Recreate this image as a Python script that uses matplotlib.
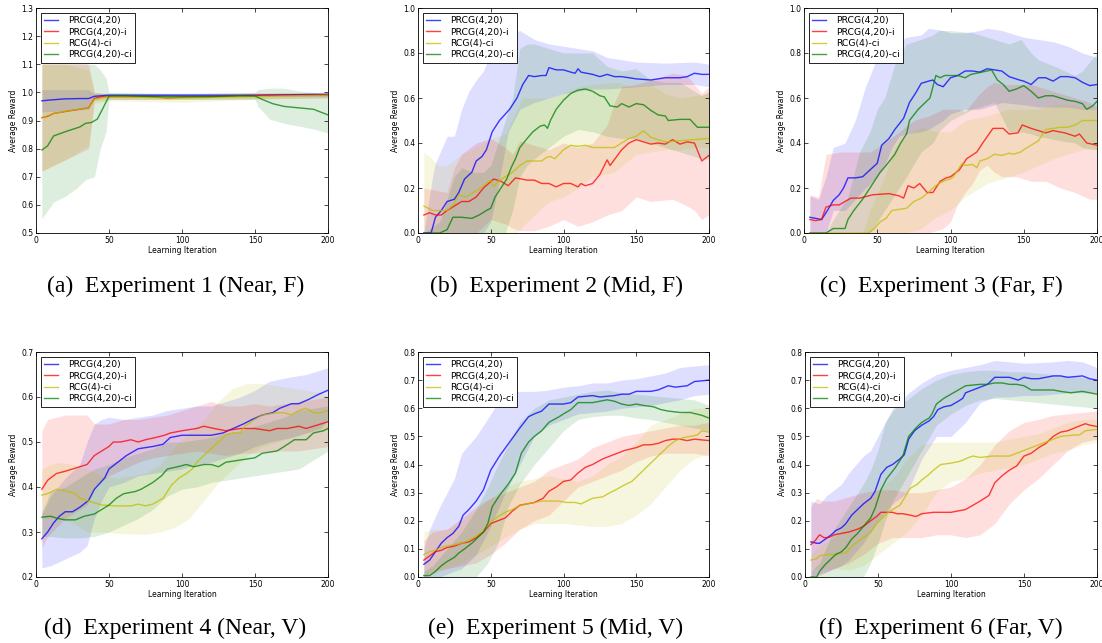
import matplotlib
matplotlib.use("Agg")
import matplotlib.pyplot as plt

FIG_W, FIG_H, DPI = 11.02, 6.43, 100

LABELS = ["PRCG(4,20)", "PRCG(4,20)-i", "RCG(4)-ci", "PRCG(4,20)-ci"]
COLORS = ["b", "r", "y", "g"]
CAPTIONS = ["(a)  Experiment 1 (Near, F)", "(b)  Experiment 2 (Mid, F)", "(c)  Experiment 3 (Far, F)",
            "(d)  Experiment 4 (Near, V)", "(e)  Experiment 5 (Mid, V)", "(f)  Experiment 6 (Far, V)"]
X_TICKS = [0, 50, 100, 150, 200]
Y_TICKS = [
    [0.5, 0.6, 0.7, 0.8, 0.9, 1.0, 1.1, 1.2, 1.3],
    [0.0, 0.2, 0.4, 0.6, 0.8, 1.0],
    [0.0, 0.2, 0.4, 0.6, 0.8, 1.0],
    [0.2, 0.3, 0.4, 0.5, 0.6, 0.7],
    [0.0, 0.1, 0.2, 0.3, 0.4, 0.5, 0.6, 0.7, 0.8],
    [0.0, 0.1, 0.2, 0.3, 0.4, 0.5, 0.6, 0.7, 0.8],
]

# ---- Experiment 1 (Near, F): mean (iter, reward), band (iter, low, high)
E1_BLUE = [(4, 0.97), (10, 0.973), (20, 0.977), (30, 0.978), (36, 0.978), (40, 0.986), (50, 0.99),
           (100, 0.99), (150, 0.99), (200, 0.993)]
E1_BLUE_BAND = [(4, 0.93, 1.01), (36, 0.94, 1.01), (40, 0.98, 0.995), (50, 0.985, 0.997),
                (100, 0.985, 0.997), (150, 0.985, 0.998), (200, 0.985, 1.0)]
E1_RED = [(4, 0.91), (8, 0.915), (12, 0.925), (20, 0.932), (30, 0.94), (36, 0.945), (40, 0.978),
          (45, 0.985), (60, 0.985), (80, 0.985), (90, 0.98), (100, 0.983), (120, 0.985), (140, 0.988),
          (160, 0.99), (200, 0.99)]
E1_RED_BAND = [(4, 0.72, 1.12), (12, 0.74, 1.12), (20, 0.76, 1.12), (36, 0.80, 1.1), (40, 0.97, 1.0),
               (50, 0.975, 0.995), (100, 0.975, 0.99), (200, 0.98, 1.0)]
E1_YELLOW = [(4, 0.91), (12, 0.925), (20, 0.933), (30, 0.94), (36, 0.945), (40, 0.975), (50, 0.985),
             (100, 0.98), (150, 0.985), (200, 0.99)]
E1_YELLOW_BAND = [(4, 0.72, 1.1), (20, 0.76, 1.1), (36, 0.81, 1.08), (40, 0.96, 1.0), (50, 0.97, 0.995),
                  (100, 0.965, 0.99), (150, 0.975, 0.995), (200, 0.98, 0.995)]
E1_GREEN = [(4, 0.795), (8, 0.81), (12, 0.845), (20, 0.86), (30, 0.877), (34, 0.89), (38, 0.893),
            (42, 0.905), (46, 0.945), (50, 0.987), (60, 0.988), (80, 0.985), (100, 0.985), (120, 0.985),
            (140, 0.988), (150, 0.987), (155, 0.975), (162, 0.96), (170, 0.95), (180, 0.945), (190, 0.94),
            (200, 0.92)]
E1_GREEN_BAND = [(4, 0.55, 1.1), (12, 0.61, 1.1), (20, 0.63, 1.1), (28, 0.66, 1.1), (34, 0.69, 1.1),
                 (40, 0.70, 1.1), (44, 0.80, 1.08), (48, 0.86, 1.05), (50, 0.975, 1.0), (100, 0.975, 0.995),
                 (150, 0.975, 1.0), (152, 0.95, 1.01), (160, 0.905, 1.015), (170, 0.89, 1.015),
                 (180, 0.88, 1.005), (190, 0.87, 1.0), (200, 0.855, 0.995)]

# ---- Experiment 2 (Mid, F)
E2_BLUE = [(4, 0), (9, 0), (12, 0.07), (16, 0.10), (20, 0.14), (25, 0.15), (28, 0.18), (32, 0.24),
           (37, 0.27), (40, 0.32), (44, 0.34), (47, 0.37), (51, 0.45), (56, 0.50), (63, 0.55), (68, 0.60),
           (72, 0.66), (76, 0.70), (80, 0.695), (85, 0.70), (88, 0.70), (90, 0.735), (95, 0.725),
           (100, 0.725), (105, 0.715), (108, 0.71), (110, 0.73), (112, 0.715), (120, 0.705), (125, 0.695),
           (130, 0.705), (135, 0.695), (140, 0.695), (150, 0.685), (160, 0.68), (165, 0.685), (170, 0.69),
           (180, 0.69), (185, 0.695), (190, 0.71), (195, 0.705), (200, 0.705)]
E2_BLUE_BAND = [(4, 0, 0), (10, 0, 0.25), (12, 0, 0.31), (20, 0, 0.43), (25, 0, 0.43), (30, 0, 0.55),
                (35, 0, 0.63), (40, 0, 0.68), (45, 0, 0.72), (50, 0.05, 0.80), (55, 0.2, 0.86),
                (62, 0.45, 0.88), (70, 0.55, 0.90), (80, 0.58, 0.86), (90, 0.60, 0.84), (100, 0.62, 0.83),
                (110, 0.63, 0.82), (120, 0.64, 0.81), (130, 0.64, 0.78), (150, 0.65, 0.76),
                (170, 0.66, 0.755), (190, 0.66, 0.76), (200, 0.65, 0.75)]
E2_RED = [(4, 0.08), (8, 0.09), (12, 0.08), (16, 0.08), (20, 0.10), (25, 0.12), (30, 0.14), (35, 0.14),
          (40, 0.16), (45, 0.20), (52, 0.24), (57, 0.23), (62, 0.21), (67, 0.245), (75, 0.235), (80, 0.235),
          (85, 0.22), (90, 0.22), (95, 0.205), (100, 0.22), (105, 0.22), (110, 0.205), (112, 0.22),
          (115, 0.21), (120, 0.22), (125, 0.26), (130, 0.325), (132, 0.30), (140, 0.37), (145, 0.40),
          (150, 0.415), (155, 0.405), (160, 0.395), (165, 0.40), (170, 0.395), (175, 0.415), (180, 0.395),
          (185, 0.405), (190, 0.40), (195, 0.32), (200, 0.345)]
E2_RED_BAND = [(4, 0, 0.20), (12, 0, 0.19), (20, 0, 0.18), (25, 0, 0.29), (30, 0, 0.35), (40, 0.0, 0.40),
               (50, 0.06, 0.42), (60, 0.04, 0.38), (65, 0.02, 0.35), (70, 0.01, 0.41), (80, 0.01, 0.39),
               (90, 0.03, 0.37), (100, 0.06, 0.40), (110, 0.03, 0.38), (120, 0.05, 0.40), (130, 0.08, 0.48),
               (135, 0.09, 0.58), (140, 0.10, 0.65), (150, 0.16, 0.66), (160, 0.14, 0.68), (175, 0.15, 0.71),
               (185, 0.12, 0.70), (190, 0.10, 0.66), (195, 0.06, 0.62), (200, 0.08, 0.65)]
E2_YELLOW = [(4, 0.12), (10, 0.10), (15, 0.10), (20, 0.10), (25, 0.13), (28, 0.17), (33, 0.16), (38, 0.18),
             (43, 0.20), (50, 0.235), (52, 0.205), (55, 0.23), (60, 0.25), (65, 0.27), (70, 0.30), (75, 0.32),
             (85, 0.32), (88, 0.335), (91, 0.34), (94, 0.33), (100, 0.37), (105, 0.39), (110, 0.385),
             (115, 0.39), (120, 0.38), (135, 0.38), (145, 0.42), (150, 0.43), (155, 0.455), (160, 0.425),
             (170, 0.405), (180, 0.41), (190, 0.415), (200, 0.42)]
E2_YELLOW_BAND = [(4, 0, 0.36), (8, 0, 0.34), (14, 0, 0.30), (20, 0, 0.30), (30, 0, 0.35), (40, 0, 0.38),
                  (50, 0, 0.42), (60, 0, 0.44), (68, 0, 0.55), (72, 0.03, 0.60), (80, 0.08, 0.60),
                  (90, 0.14, 0.60), (100, 0.16, 0.62), (110, 0.2, 0.65), (120, 0.25, 0.66), (135, 0.27, 0.67),
                  (150, 0.35, 0.65), (160, 0.36, 0.66), (170, 0.37, 0.62), (180, 0.37, 0.60),
                  (190, 0.38, 0.61), (200, 0.38, 0.62)]
E2_GREEN = [(4, 0), (15, 0), (20, 0.015), (24, 0.07), (30, 0.07), (37, 0.065), (42, 0.08), (47, 0.10),
            (50, 0.11), (53, 0.16), (57, 0.20), (61, 0.24), (64, 0.29), (67, 0.33), (70, 0.38), (75, 0.42),
            (79, 0.45), (84, 0.475), (87, 0.48), (89, 0.465), (91, 0.50), (95, 0.55), (100, 0.59),
            (105, 0.62), (110, 0.635), (115, 0.64), (120, 0.63), (125, 0.61), (128, 0.605), (132, 0.565),
            (137, 0.56), (140, 0.575), (145, 0.56), (150, 0.575), (155, 0.57), (160, 0.545), (165, 0.525),
            (170, 0.52), (172, 0.50), (180, 0.505), (187, 0.505), (192, 0.47), (200, 0.47)]
E2_GREEN_BAND = [(4, 0, 0), (15, 0, 0.05), (20, 0, 0.15), (25, 0, 0.25), (30, 0, 0.29), (38, 0, 0.27),
                 (45, 0, 0.27), (50, 0, 0.30), (55, 0, 0.40), (60, 0, 0.50), (65, 0.1, 0.60), (70, 0.25, 0.82),
                 (75, 0.3, 0.84), (80, 0.33, 0.84), (90, 0.38, 0.82), (100, 0.43, 0.80), (110, 0.46, 0.80),
                 (120, 0.45, 0.80), (130, 0.43, 0.74), (140, 0.42, 0.72), (150, 0.42, 0.73), (160, 0.40, 0.68),
                 (170, 0.38, 0.67), (180, 0.36, 0.67), (190, 0.34, 0.63), (195, 0.33, 0.61), (200, 0.33, 0.63)]

# ---- Experiment 3 (Far, F)
E3_BLUE = [(4, 0.07), (8, 0.065), (12, 0.06), (16, 0.10), (20, 0.145), (24, 0.17), (27, 0.20), (30, 0.245),
           (35, 0.245), (40, 0.25), (45, 0.28), (50, 0.31), (53, 0.39), (58, 0.42), (62, 0.46), (68, 0.51),
           (72, 0.58), (76, 0.62), (80, 0.665), (85, 0.675), (88, 0.68), (91, 0.66), (95, 0.65), (100, 0.69),
           (105, 0.70), (110, 0.72), (115, 0.72), (120, 0.715), (125, 0.73), (130, 0.725), (135, 0.72),
           (140, 0.695), (147, 0.68), (150, 0.675), (155, 0.66), (160, 0.69), (165, 0.69), (170, 0.675),
           (175, 0.695), (180, 0.695), (185, 0.69), (190, 0.67), (195, 0.655), (200, 0.66)]
E3_BLUE_BAND = [(4, 0, 0.165), (10, 0, 0.15), (15, 0, 0.25), (20, 0.1, 0.38), (28, 0.1, 0.40),
                (35, 0.15, 0.50), (42, 0.2, 0.65), (50, 0.25, 0.78), (55, 0.3, 0.78), (60, 0.38, 0.80),
                (65, 0.43, 0.85), (70, 0.44, 0.87), (80, 0.45, 0.88), (85, 0.46, 0.91), (95, 0.50, 0.90),
                (100, 0.53, 0.89), (110, 0.55, 0.89), (120, 0.55, 0.90), (125, 0.56, 0.91), (135, 0.58, 0.90),
                (150, 0.57, 0.87), (160, 0.56, 0.86), (170, 0.56, 0.85), (180, 0.56, 0.83), (190, 0.55, 0.80),
                (200, 0.55, 0.78)]
E3_RED = [(4, 0.06), (8, 0.055), (12, 0.06), (15, 0.115), (20, 0.125), (24, 0.125), (28, 0.14), (32, 0.155),
          (38, 0.155), (47, 0.17), (58, 0.175), (65, 0.165), (68, 0.155), (71, 0.21), (75, 0.20), (79, 0.22),
          (84, 0.18), (88, 0.18), (93, 0.23), (97, 0.245), (100, 0.25), (106, 0.28), (111, 0.33), (118, 0.36),
          (122, 0.40), (129, 0.465), (136, 0.465), (140, 0.44), (146, 0.445), (149, 0.48), (155, 0.465),
          (160, 0.455), (165, 0.445), (170, 0.455), (178, 0.445), (185, 0.43), (188, 0.44), (193, 0.40),
          (200, 0.39)]
E3_RED_BAND = [(4, 0, 0.17), (10, 0, 0.16), (15, 0, 0.35), (25, 0, 0.36), (35, 0, 0.36), (45, 0, 0.36),
               (55, 0, 0.40), (65, 0, 0.45), (75, 0, 0.50), (85, 0.0, 0.52), (95, 0.02, 0.55), (100, 0.05, 0.55),
               (105, 0.13, 0.55), (110, 0.18, 0.54), (115, 0.22, 0.58), (120, 0.28, 0.62), (125, 0.30, 0.65),
               (130, 0.27, 0.67), (135, 0.25, 0.66), (145, 0.25, 0.66), (155, 0.23, 0.66), (165, 0.23, 0.64),
               (175, 0.20, 0.62), (185, 0.18, 0.60), (195, 0.15, 0.58), (200, 0.15, 0.56)]
E3_YELLOW = [(4, 0), (44, 0), (48, 0.02), (52, 0.05), (56, 0.065), (60, 0.10), (65, 0.105), (70, 0.11),
             (75, 0.14), (80, 0.155), (85, 0.18), (88, 0.20), (92, 0.22), (97, 0.235), (100, 0.24), (102, 0.25),
             (105, 0.28), (108, 0.31), (110, 0.30), (115, 0.305), (118, 0.29), (120, 0.32), (125, 0.33),
             (130, 0.35), (135, 0.345), (140, 0.355), (143, 0.35), (148, 0.36), (150, 0.37), (155, 0.39),
             (160, 0.41), (165, 0.46), (170, 0.465), (175, 0.47), (180, 0.47), (185, 0.48), (190, 0.50),
             (200, 0.50)]
E3_YELLOW_BAND = [(4, 0, 0), (40, 0, 0), (45, 0, 0.1), (55, 0, 0.25), (62, 0, 0.38), (70, 0, 0.43),
                  (80, 0.02, 0.47), (90, 0.07, 0.45), (100, 0.10, 0.45), (110, 0.16, 0.50), (125, 0.22, 0.52),
                  (140, 0.25, 0.55), (150, 0.27, 0.55), (160, 0.30, 0.55), (170, 0.33, 0.57), (180, 0.35, 0.57),
                  (190, 0.37, 0.56), (200, 0.37, 0.55)]
E3_GREEN = [(4, 0), (15, 0), (20, 0.02), (28, 0.02), (30, 0.06), (34, 0.10), (40, 0.15), (46, 0.21),
            (52, 0.27), (56, 0.30), (62, 0.35), (66, 0.40), (70, 0.44), (72, 0.50), (78, 0.55), (86, 0.60),
            (90, 0.70), (93, 0.69), (96, 0.70), (100, 0.70), (105, 0.70), (110, 0.69), (114, 0.705),
            (125, 0.72), (128, 0.725), (132, 0.68), (136, 0.66), (140, 0.63), (145, 0.64), (150, 0.655),
            (155, 0.63), (160, 0.60), (165, 0.61), (170, 0.61), (175, 0.60), (180, 0.59), (185, 0.585),
            (190, 0.575), (193, 0.55), (197, 0.565), (200, 0.585)]
E3_GREEN_BAND = [(4, 0, 0), (15, 0, 0), (20, 0, 0.06), (30, 0, 0.16), (38, 0, 0.36), (45, 0, 0.45),
                 (50, 0.05, 0.55), (55, 0.10, 0.60), (62, 0.17, 0.75), (70, 0.25, 0.84), (80, 0.36, 0.86),
                 (88, 0.40, 0.88), (92, 0.45, 0.90), (100, 0.50, 0.90), (115, 0.55, 0.89), (130, 0.58, 0.86),
                 (140, 0.45, 0.84), (148, 0.45, 0.86), (155, 0.44, 0.80), (160, 0.43, 0.77), (175, 0.41, 0.73),
                 (185, 0.40, 0.70), (190, 0.38, 0.72), (200, 0.37, 0.80)]

# ---- Experiment 4 (Near, V)
E4_BLUE = [(4, 0.285), (8, 0.30), (12, 0.32), (16, 0.335), (20, 0.345), (25, 0.345), (30, 0.355), (36, 0.37),
           (40, 0.395), (47, 0.42), (50, 0.44), (56, 0.455), (62, 0.47), (70, 0.485), (80, 0.49), (87, 0.495),
           (92, 0.51), (100, 0.515), (110, 0.515), (120, 0.515), (128, 0.52), (135, 0.53), (142, 0.54),
           (148, 0.55), (155, 0.56), (162, 0.565), (167, 0.575), (175, 0.585), (180, 0.585), (187, 0.595),
           (193, 0.605), (200, 0.615)]
E4_BLUE_BAND = [(4, 0.22, 0.34), (10, 0.225, 0.38), (20, 0.24, 0.42), (30, 0.255, 0.45), (35, 0.27, 0.50),
                (40, 0.33, 0.54), (45, 0.37, 0.55), (50, 0.40, 0.555), (60, 0.41, 0.55), (70, 0.425, 0.555),
                (80, 0.43, 0.56), (90, 0.435, 0.57), (100, 0.44, 0.575), (110, 0.45, 0.58), (120, 0.455, 0.58),
                (130, 0.465, 0.59), (140, 0.475, 0.60), (150, 0.49, 0.615), (160, 0.50, 0.635),
                (175, 0.51, 0.645), (185, 0.52, 0.65), (195, 0.53, 0.66), (200, 0.55, 0.665)]
E4_RED = [(4, 0.395), (8, 0.415), (14, 0.43), (20, 0.435), (25, 0.44), (30, 0.445), (35, 0.45), (40, 0.47),
          (45, 0.48), (50, 0.49), (53, 0.50), (58, 0.50), (65, 0.505), (70, 0.50), (75, 0.505), (82, 0.51),
          (88, 0.515), (92, 0.52), (100, 0.525), (110, 0.53), (115, 0.535), (122, 0.53), (130, 0.525),
          (140, 0.53), (150, 0.53), (160, 0.525), (165, 0.53), (172, 0.53), (180, 0.535), (185, 0.53),
          (190, 0.535), (195, 0.54), (200, 0.545)]
E4_RED_BAND = [(4, 0.265, 0.525), (8, 0.29, 0.55), (20, 0.33, 0.56), (35, 0.36, 0.56), (40, 0.40, 0.54),
               (50, 0.425, 0.54), (60, 0.44, 0.55), (70, 0.455, 0.55), (80, 0.465, 0.555), (90, 0.47, 0.56),
               (100, 0.475, 0.57), (110, 0.48, 0.58), (120, 0.475, 0.59), (130, 0.47, 0.58), (140, 0.475, 0.58),
               (150, 0.475, 0.585), (160, 0.48, 0.58), (170, 0.48, 0.585), (180, 0.48, 0.59),
               (190, 0.485, 0.595), (200, 0.49, 0.60)]
E4_YELLOW = [(4, 0.382), (8, 0.385), (14, 0.395), (22, 0.39), (27, 0.385), (30, 0.375), (35, 0.37),
             (40, 0.365), (45, 0.36), (55, 0.358), (65, 0.358), (70, 0.362), (75, 0.358), (80, 0.362),
             (87, 0.375), (90, 0.39), (93, 0.405), (98, 0.42), (103, 0.43), (107, 0.44), (110, 0.455),
             (115, 0.47), (120, 0.485), (125, 0.50), (130, 0.515), (135, 0.52), (140, 0.52), (143, 0.535),
             (150, 0.55), (155, 0.56), (165, 0.565), (170, 0.565), (175, 0.56), (180, 0.57), (185, 0.575),
             (190, 0.565), (195, 0.565), (200, 0.57)]
E4_YELLOW_BAND = [(4, 0.33, 0.44), (10, 0.33, 0.45), (15, 0.33, 0.455), (25, 0.32, 0.45), (35, 0.30, 0.44),
                  (45, 0.30, 0.425), (55, 0.297, 0.42), (65, 0.296, 0.425), (75, 0.295, 0.43), (85, 0.30, 0.45),
                  (95, 0.31, 0.49), (105, 0.33, 0.52), (115, 0.37, 0.55), (125, 0.41, 0.59), (135, 0.44, 0.62),
                  (145, 0.47, 0.63), (155, 0.49, 0.63), (165, 0.50, 0.625), (175, 0.51, 0.62),
                  (185, 0.52, 0.615), (195, 0.525, 0.61), (200, 0.53, 0.60)]
E4_GREEN = [(4, 0.333), (10, 0.335), (15, 0.33), (20, 0.327), (27, 0.327), (33, 0.335), (40, 0.34), (45, 0.35),
            (50, 0.36), (55, 0.375), (60, 0.385), (68, 0.39), (72, 0.395), (80, 0.41), (86, 0.425), (90, 0.44),
            (97, 0.445), (103, 0.45), (108, 0.445), (115, 0.45), (120, 0.45), (125, 0.445), (130, 0.455),
            (140, 0.46), (150, 0.465), (155, 0.475), (165, 0.48), (170, 0.49), (177, 0.505), (185, 0.505),
            (190, 0.52), (197, 0.525), (200, 0.53)]
E4_GREEN_BAND = [(4, 0.29, 0.345), (10, 0.29, 0.39), (20, 0.287, 0.40), (30, 0.287, 0.42), (40, 0.29, 0.44),
                 (50, 0.30, 0.45), (60, 0.315, 0.465), (70, 0.33, 0.475), (80, 0.35, 0.485), (90, 0.38, 0.50),
                 (100, 0.395, 0.50), (110, 0.40, 0.505), (120, 0.41, 0.51), (130, 0.415, 0.52),
                 (140, 0.42, 0.525), (150, 0.425, 0.535), (160, 0.43, 0.545), (170, 0.435, 0.555),
                 (180, 0.44, 0.57), (190, 0.46, 0.575), (200, 0.48, 0.58)]

# ---- Experiment 5 (Mid, V)
E5_BLUE = [(4, 0.045), (8, 0.06), (12, 0.09), (16, 0.12), (20, 0.14), (24, 0.155), (28, 0.18), (31, 0.22),
           (35, 0.24), (40, 0.27), (45, 0.31), (50, 0.38), (56, 0.43), (63, 0.48), (70, 0.53), (76, 0.57),
           (80, 0.58), (85, 0.59), (90, 0.615), (100, 0.615), (105, 0.62), (110, 0.64), (120, 0.645),
           (125, 0.64), (135, 0.645), (140, 0.65), (145, 0.65), (150, 0.66), (160, 0.66), (165, 0.665),
           (172, 0.68), (177, 0.675), (185, 0.68), (190, 0.695), (200, 0.70)]
E5_BLUE_BAND = [(4, 0, 0.10), (8, 0, 0.17), (15, 0, 0.25), (20, 0.01, 0.30), (25, 0.02, 0.35), (30, 0.03, 0.44),
                (40, 0.08, 0.50), (50, 0.18, 0.58), (60, 0.30, 0.66), (70, 0.40, 0.66), (80, 0.50, 0.66),
                (90, 0.54, 0.665), (100, 0.56, 0.675), (110, 0.58, 0.68), (120, 0.585, 0.69), (130, 0.59, 0.69),
                (140, 0.60, 0.70), (150, 0.605, 0.705), (160, 0.61, 0.715), (170, 0.62, 0.725),
                (180, 0.63, 0.745), (190, 0.645, 0.75), (200, 0.65, 0.755)]
E5_RED = [(4, 0.06), (8, 0.075), (12, 0.09), (16, 0.095), (20, 0.105), (25, 0.11), (30, 0.12), (35, 0.125),
          (40, 0.14), (45, 0.16), (50, 0.19), (55, 0.20), (60, 0.21), (65, 0.235), (70, 0.255), (75, 0.26),
          (80, 0.265), (86, 0.28), (90, 0.305), (95, 0.32), (100, 0.34), (105, 0.345), (110, 0.37), (115, 0.39),
          (120, 0.40), (127, 0.42), (132, 0.43), (137, 0.44), (142, 0.45), (150, 0.46), (155, 0.47),
          (160, 0.47), (165, 0.475), (170, 0.485), (175, 0.49), (180, 0.49), (185, 0.485), (190, 0.49),
          (200, 0.485)]
E5_RED_BAND = [(4, 0.0, 0.13), (10, 0.02, 0.16), (20, 0.03, 0.17), (30, 0.04, 0.21), (40, 0.05, 0.25),
               (50, 0.08, 0.28), (60, 0.12, 0.30), (70, 0.17, 0.32), (80, 0.20, 0.34), (90, 0.22, 0.38),
               (100, 0.27, 0.40), (110, 0.32, 0.42), (120, 0.34, 0.46), (130, 0.36, 0.48), (140, 0.38, 0.50),
               (150, 0.41, 0.51), (160, 0.43, 0.52), (170, 0.44, 0.53), (180, 0.44, 0.54), (190, 0.44, 0.54),
               (200, 0.43, 0.55)]
E5_YELLOW = [(4, 0.08), (8, 0.09), (12, 0.095), (16, 0.105), (20, 0.11), (25, 0.115), (30, 0.12), (35, 0.13),
             (40, 0.145), (45, 0.165), (50, 0.195), (55, 0.215), (60, 0.23), (65, 0.24), (70, 0.255), (75, 0.26),
             (80, 0.265), (85, 0.27), (90, 0.27), (97, 0.27), (102, 0.265), (108, 0.265), (112, 0.26),
             (116, 0.27), (120, 0.28), (127, 0.285), (132, 0.30), (136, 0.31), (141, 0.325), (147, 0.34),
             (152, 0.365), (157, 0.39), (162, 0.415), (167, 0.44), (172, 0.465), (177, 0.485), (182, 0.495),
             (187, 0.50), (192, 0.505), (195, 0.52), (200, 0.515)]
E5_YELLOW_BAND = [(4, 0.0, 0.16), (10, 0.01, 0.17), (20, 0.03, 0.17), (30, 0.05, 0.20), (40, 0.08, 0.24),
                  (50, 0.11, 0.28), (60, 0.14, 0.32), (70, 0.17, 0.34), (80, 0.19, 0.35), (90, 0.19, 0.36),
                  (100, 0.19, 0.35), (110, 0.185, 0.34), (120, 0.18, 0.36), (130, 0.18, 0.40), (140, 0.19, 0.43),
                  (150, 0.22, 0.48), (160, 0.26, 0.54), (170, 0.32, 0.56), (180, 0.38, 0.58), (190, 0.42, 0.60),
                  (200, 0.44, 0.60)]
E5_GREEN = [(4, 0.005), (8, 0.005), (12, 0.02), (16, 0.04), (20, 0.055), (25, 0.07), (28, 0.085), (32, 0.10),
            (37, 0.12), (41, 0.14), (45, 0.16), (48, 0.19), (51, 0.25), (56, 0.29), (62, 0.33), (67, 0.37),
            (71, 0.44), (76, 0.48), (80, 0.50), (85, 0.52), (90, 0.55), (97, 0.57), (100, 0.58), (105, 0.595),
            (110, 0.62), (115, 0.62), (120, 0.62), (125, 0.625), (130, 0.63), (135, 0.625), (140, 0.615),
            (145, 0.61), (150, 0.615), (155, 0.61), (162, 0.605), (167, 0.595), (172, 0.59), (180, 0.585),
            (187, 0.585), (195, 0.575), (200, 0.565)]
E5_GREEN_BAND = [(4, 0, 0.02), (10, 0, 0.04), (20, 0, 0.10), (30, 0, 0.16), (40, 0, 0.24), (48, 0.05, 0.32),
                 (55, 0.12, 0.40), (62, 0.25, 0.47), (70, 0.33, 0.55), (80, 0.40, 0.60), (90, 0.46, 0.63),
                 (100, 0.52, 0.64), (110, 0.56, 0.65), (120, 0.57, 0.66), (130, 0.575, 0.665),
                 (140, 0.575, 0.655), (150, 0.565, 0.65), (160, 0.56, 0.645), (170, 0.55, 0.64),
                 (180, 0.54, 0.635), (190, 0.53, 0.63), (200, 0.52, 0.61)]

# ---- Experiment 6 (Far, V)
E6_BLUE = [(4, 0.125), (8, 0.12), (10, 0.12), (14, 0.135), (18, 0.15), (21, 0.165), (25, 0.175), (28, 0.19),
           (32, 0.22), (35, 0.235), (40, 0.26), (45, 0.28), (48, 0.305), (52, 0.365), (56, 0.39), (60, 0.40),
           (65, 0.42), (68, 0.435), (71, 0.49), (75, 0.52), (80, 0.54), (85, 0.555), (88, 0.57), (91, 0.595),
           (95, 0.605), (100, 0.61), (105, 0.625), (108, 0.635), (110, 0.655), (115, 0.665), (120, 0.675),
           (125, 0.685), (130, 0.71), (135, 0.71), (140, 0.71), (146, 0.70), (150, 0.71), (155, 0.705),
           (160, 0.705), (165, 0.71), (170, 0.715), (175, 0.715), (180, 0.71), (190, 0.715), (195, 0.705),
           (200, 0.70)]
E6_BLUE_BAND = [(4, 0, 0.27), (10, 0.01, 0.26), (15, 0.02, 0.29), (20, 0.03, 0.31), (25, 0.04, 0.33),
                (30, 0.06, 0.37), (35, 0.09, 0.40), (40, 0.12, 0.43), (45, 0.16, 0.45), (50, 0.20, 0.50),
                (55, 0.23, 0.55), (60, 0.26, 0.59), (65, 0.28, 0.62), (70, 0.30, 0.65), (75, 0.36, 0.67),
                (80, 0.42, 0.69), (90, 0.50, 0.72), (100, 0.50, 0.735), (110, 0.55, 0.745), (120, 0.62, 0.755),
                (130, 0.64, 0.77), (140, 0.64, 0.765), (150, 0.645, 0.76), (160, 0.645, 0.762),
                (170, 0.65, 0.765), (180, 0.655, 0.77), (190, 0.655, 0.765), (200, 0.655, 0.745)]
E6_RED = [(4, 0.115), (7, 0.13), (10, 0.15), (13, 0.14), (16, 0.14), (20, 0.15), (25, 0.155), (30, 0.16),
          (33, 0.165), (36, 0.17), (40, 0.18), (45, 0.20), (49, 0.215), (52, 0.23), (60, 0.23), (63, 0.225),
          (67, 0.225), (72, 0.22), (76, 0.215), (80, 0.225), (88, 0.23), (93, 0.23), (100, 0.23), (105, 0.235),
          (110, 0.24), (115, 0.255), (120, 0.27), (126, 0.29), (130, 0.335), (135, 0.36), (140, 0.38),
          (145, 0.395), (150, 0.43), (155, 0.44), (160, 0.46), (165, 0.475), (170, 0.50), (175, 0.515),
          (180, 0.52), (187, 0.535), (192, 0.545), (195, 0.54), (200, 0.535)]
E6_RED_BAND = [(4, 0, 0.25), (8, 0, 0.28), (12, 0.01, 0.27), (20, 0.03, 0.27), (30, 0.05, 0.285),
               (40, 0.08, 0.30), (50, 0.12, 0.31), (60, 0.14, 0.31), (70, 0.14, 0.30), (80, 0.14, 0.30),
               (90, 0.15, 0.31), (100, 0.15, 0.32), (110, 0.14, 0.35), (120, 0.15, 0.40), (130, 0.19, 0.47),
               (140, 0.26, 0.52), (150, 0.31, 0.55), (160, 0.35, 0.56), (170, 0.40, 0.575), (180, 0.45, 0.58),
               (190, 0.48, 0.585), (200, 0.49, 0.59)]
E6_YELLOW = [(4, 0.06), (8, 0.065), (10, 0.075), (15, 0.08), (20, 0.08), (25, 0.085), (28, 0.085), (32, 0.11),
             (36, 0.125), (40, 0.14), (45, 0.16), (50, 0.195), (53, 0.21), (57, 0.23), (60, 0.24), (65, 0.255),
             (68, 0.28), (72, 0.315), (77, 0.33), (80, 0.345), (85, 0.365), (88, 0.38), (93, 0.40), (100, 0.405),
             (105, 0.41), (108, 0.415), (112, 0.425), (115, 0.43), (120, 0.425), (128, 0.43), (140, 0.43),
             (145, 0.44), (150, 0.45), (155, 0.46), (160, 0.47), (165, 0.48), (170, 0.49), (175, 0.50),
             (185, 0.505), (188, 0.505), (192, 0.52), (200, 0.525)]
E6_YELLOW_BAND = [(4, 0.03, 0.08), (10, 0.03, 0.11), (20, 0.03, 0.14), (30, 0.025, 0.20), (40, 0.04, 0.26),
                  (50, 0.08, 0.31), (60, 0.12, 0.35), (70, 0.16, 0.42), (80, 0.22, 0.47), (90, 0.30, 0.48),
                  (100, 0.34, 0.48), (110, 0.35, 0.48), (120, 0.37, 0.48), (130, 0.38, 0.48), (140, 0.39, 0.49),
                  (150, 0.40, 0.50), (160, 0.42, 0.51), (170, 0.44, 0.53), (180, 0.45, 0.55), (190, 0.47, 0.56),
                  (200, 0.48, 0.56)]
E6_GREEN = [(4, 0), (8, 0), (10, 0.02), (14, 0.045), (17, 0.06), (21, 0.08), (25, 0.09), (28, 0.105),
            (32, 0.135), (36, 0.155), (40, 0.18), (45, 0.21), (48, 0.245), (52, 0.31), (56, 0.35), (62, 0.39),
            (67, 0.43), (71, 0.50), (76, 0.53), (80, 0.55), (85, 0.565), (87, 0.58), (90, 0.615), (95, 0.635),
            (100, 0.65), (105, 0.665), (110, 0.68), (120, 0.685), (125, 0.685), (130, 0.69), (135, 0.69),
            (140, 0.685), (145, 0.685), (150, 0.68), (155, 0.665), (160, 0.665), (170, 0.665), (175, 0.66),
            (182, 0.655), (190, 0.66), (195, 0.655), (200, 0.65)]
E6_GREEN_BAND = [(4, 0, 0.02), (10, 0, 0.05), (20, 0, 0.17), (30, 0, 0.25), (40, 0, 0.33), (45, 0.05, 0.38),
                 (50, 0.12, 0.45), (55, 0.20, 0.55), (60, 0.27, 0.60), (70, 0.36, 0.63), (80, 0.45, 0.67),
                 (90, 0.54, 0.70), (100, 0.58, 0.72), (110, 0.61, 0.73), (120, 0.63, 0.735), (130, 0.635, 0.735),
                 (140, 0.63, 0.73), (150, 0.625, 0.73), (160, 0.62, 0.725), (170, 0.615, 0.72),
                 (180, 0.61, 0.715), (190, 0.605, 0.71), (200, 0.60, 0.70)]

PANELS = [
    [(E1_BLUE, E1_BLUE_BAND), (E1_RED, E1_RED_BAND), (E1_YELLOW, E1_YELLOW_BAND), (E1_GREEN, E1_GREEN_BAND)],
    [(E2_BLUE, E2_BLUE_BAND), (E2_RED, E2_RED_BAND), (E2_YELLOW, E2_YELLOW_BAND), (E2_GREEN, E2_GREEN_BAND)],
    [(E3_BLUE, E3_BLUE_BAND), (E3_RED, E3_RED_BAND), (E3_YELLOW, E3_YELLOW_BAND), (E3_GREEN, E3_GREEN_BAND)],
    [(E4_BLUE, E4_BLUE_BAND), (E4_RED, E4_RED_BAND), (E4_YELLOW, E4_YELLOW_BAND), (E4_GREEN, E4_GREEN_BAND)],
    [(E5_BLUE, E5_BLUE_BAND), (E5_RED, E5_RED_BAND), (E5_YELLOW, E5_YELLOW_BAND), (E5_GREEN, E5_GREEN_BAND)],
    [(E6_BLUE, E6_BLUE_BAND), (E6_RED, E6_RED_BAND), (E6_YELLOW, E6_YELLOW_BAND), (E6_GREEN, E6_GREEN_BAND)],
]

# axes boxes in pixels: left, right, top, bottom
AX_PX = [(36, 328, 8, 233), (418, 709, 8, 233), (804, 1097, 8, 233),
         (36, 328, 352, 577), (418, 709, 352, 577), (805, 1097, 352, 577)]
CAPTION_PX = [(176, 286), (556, 286), (941, 286), (175, 628), (556, 628), (941, 628)]

W_PX, H_PX = FIG_W * DPI, FIG_H * DPI
fig = plt.figure(figsize=(FIG_W, FIG_H), dpi=DPI)

for i, series in enumerate(PANELS):
    left, right, top, bottom = AX_PX[i]
    ax = fig.add_axes([left / W_PX, 1 - bottom / H_PX, (right - left) / W_PX, (bottom - top) / H_PX])
    for (mean, band), color, label in zip(series, COLORS, LABELS):
        bx = [p[0] for p in band]
        ax.fill_between(bx, [p[1] for p in band], [p[2] for p in band],
                        color=color, alpha=0.13, linewidth=0)
        ax.plot([p[0] for p in mean], [p[1] for p in mean], color=color, alpha=0.75,
                linewidth=1.0, label=label)
    yt = Y_TICKS[i]
    ax.set_xlim(0, 200)
    ax.set_ylim(yt[0], yt[-1])
    ax.set_xticks(X_TICKS)
    ax.set_yticks(yt)
    ax.tick_params(direction="in", top=True, right=True, labelsize=5.5, length=3, width=0.5, pad=2)
    for s in ax.spines.values():
        s.set_linewidth(0.6)
    ax.set_xlabel("Learning Iteration", fontsize=5.5, labelpad=1)
    ax.set_ylabel("Average Reward", fontsize=5.5, labelpad=2)
    leg = ax.legend(loc="upper left", fontsize=6.7, fancybox=False, framealpha=1, edgecolor="black",
                    handlelength=1.5, handletextpad=1.0, borderpad=0.4, labelspacing=0.25)
    leg.get_frame().set_linewidth(0.6)
    cx, cy = CAPTION_PX[i]
    fig.text(cx / W_PX, 1 - cy / H_PX, CAPTIONS[i], ha="center", va="center",
             fontsize=17, family="Liberation Serif")

fig.savefig("out.png", dpi=DPI)
